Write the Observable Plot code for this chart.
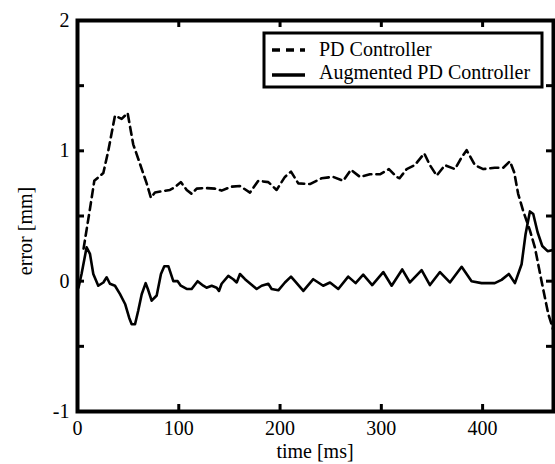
<!DOCTYPE html>
<html><head><meta charset="utf-8">
<script src="https://cdn.jsdelivr.net/npm/d3@7"></script>
<script src="https://cdn.jsdelivr.net/npm/@observablehq/plot@0.6"></script>
<style>body{margin:0;background:#fff}</style>
</head><body><div id="chart"></div>
<script>
// ---- data ----
const seriesNames = ["PD Controller", "Augmented PD Controller"];
const pdTime  = [6,12,16.6,25.5,30.4,37,43.6,49.5,55,61.7,68.3,72.5,76.5,83,91.3,96,102,107.8,112.7,117.7,125.9,135.7,142.3,152,160.4,170.3,178.5,188.4,196.6,204.8,210.8,218,229.5,241,252.5,262.4,270,278.9,288.7,298.6,307.5,315,318,325,333,342.4,348,354.6,362.8,372.7,379.3,384.2,392.4,400.6,412,420.3,427,431.2,435.1,440,446.7,451.6,458.2,464.8,470];
const pdError = [0.25,0.54,0.77,0.83,1.0,1.27,1.245,1.29,1.05,0.90,0.75,0.64,0.68,0.69,0.70,0.72,0.76,0.70,0.67,0.71,0.715,0.71,0.695,0.725,0.73,0.68,0.77,0.76,0.70,0.80,0.84,0.75,0.745,0.79,0.80,0.77,0.855,0.80,0.82,0.82,0.86,0.80,0.79,0.86,0.89,0.98,0.89,0.81,0.89,0.86,0.95,1.005,0.89,0.86,0.87,0.87,0.92,0.835,0.67,0.54,0.39,0.26,0.0,-0.25,-0.38];
const augTime  = [1,4,9,12.3,15.6,20.5,25.5,28.8,32,37,42,47,51,53.5,56.8,60,63.4,67.3,69.9,73.2,78.2,82.4,85.7,89.7,94.6,98.9,102,107.8,112.7,118.6,124.2,127.4,132.5,137.4,139.7,142.3,148.9,153.8,157.2,160.4,165.4,176.9,181.8,188.4,191.7,198.3,204.8,210.8,214.7,223,232.8,242.6,249.3,257.5,267.3,274.6,282.1,291,301.9,310.2,320.6,328.2,339.8,348,357.9,367.7,379.3,389.1,399,412,418.7,425.9,431.9,438.5,442.4,446.7,450,454.3,458.9,464.2,470];
const augError = [-0.05,0.055,0.26,0.21,0.055,-0.035,-0.01,0.03,-0.02,-0.035,-0.1,-0.175,-0.28,-0.33,-0.33,-0.225,-0.1,-0.015,-0.07,-0.15,-0.11,0.055,0.115,0.115,0.0,0.0,-0.035,-0.06,-0.06,0.0,-0.035,-0.05,-0.035,-0.05,-0.075,-0.02,0.04,0.015,-0.01,0.055,0.015,-0.06,-0.035,-0.02,-0.06,-0.07,-0.01,0.035,0.0,-0.075,0.015,-0.035,-0.01,-0.06,0.035,-0.015,0.05,-0.03,0.07,-0.035,0.09,-0.01,0.085,-0.03,0.07,-0.01,0.11,0.0,-0.015,-0.015,0.01,0.055,-0.015,0.13,0.36,0.535,0.515,0.375,0.27,0.23,0.24];
const xTicks = [0, 100, 200, 300, 400];
const yTicks = [-1, 0, 1, 2];
const yMinorTicks = [-0.5, 0, 0.5, 1, 1.5];
const xLabel = "time [ms]";
const yLabel = "error [mm]";

// ---- layout ----
const W = 555, H = 464, mL = 77, mR = 2, mT = 20, mB = 53;
const fw = W - mL - mR, fh = H - mT - mB;
const font = "'Liberation Serif', 'Times New Roman', serif";
const fmt = d => (d < 0 ? "-" + Math.abs(d) : String(d));

const pd = pdTime.map((t, i) => ({t, v: pdError[i]}));
const aug = augTime.map((t, i) => ({t, v: augError[i]}));

const plot = Plot.plot({
  width: W, height: H,
  marginLeft: mL, marginRight: mR, marginTop: mT, marginBottom: mB,
  x: {domain: [0, 470]},
  y: {domain: [-1, 2]},
  style: {fontFamily: font, fontSize: "20px", background: "white", color: "black"},
  marks: [
    Plot.line(pd, {x: "t", y: "v", stroke: "black", strokeWidth: 2.6, strokeDasharray: "8,5"}),
    Plot.line(aug, {x: "t", y: "v", stroke: "black", strokeWidth: 2.6}),
    Plot.ruleX(xTicks.slice(1), {x: d => d, insetTop: fh - 7, strokeWidth: 3}),
    Plot.ruleX(xTicks.slice(1), {x: d => d, insetBottom: fh - 7, strokeWidth: 3}),
    Plot.ruleY(yMinorTicks, {y: d => d, insetRight: fw - 7, strokeWidth: 3}),
    Plot.ruleY(yMinorTicks, {y: d => d, insetLeft: fw - 7, strokeWidth: 3}),
    Plot.frame({stroke: "black", strokeWidth: 4}),
    Plot.axisX({ticks: xTicks, tickSize: 0, tickPadding: 9, fontSize: 20, label: null, tickFormat: fmt}),
    Plot.axisY({ticks: yTicks, tickSize: 0, tickPadding: 8, fontSize: 20, label: null, tickFormat: fmt})
  ]
});

const svg = d3.select(plot);
const txt = svg.append("g")
  .style("font-family", font).style("font-size", "20px")
  .attr("fill", "black");

// axis titles
txt.append("text").attr("x", mL + fw / 2).attr("y", 458)
  .attr("text-anchor", "middle").text(xLabel);
txt.append("text").attr("transform", "translate(32,231) rotate(-90)")
  .attr("text-anchor", "middle").text(yLabel);

// legend box inside the frame
txt.append("rect").attr("x", 264).attr("y", 33).attr("width", 278).attr("height", 54)
  .attr("fill", "white").attr("stroke", "black").attr("stroke-width", 3);
const rows = [{y: 50, base: 56, dash: "8,6"}, {y: 75, base: 79, dash: null}];
rows.forEach((r, i) => {
  const ln = txt.append("line").attr("x1", 272).attr("x2", 305).attr("y1", r.y).attr("y2", r.y)
    .attr("stroke", "black").attr("stroke-width", 3.5);
  if (r.dash) ln.attr("stroke-dasharray", r.dash);
  txt.append("text").attr("x", 319).attr("y", r.base).attr("text-anchor", "start")
    .text(seriesNames[i]);
});

document.getElementById("chart").appendChild(plot);
</script>
</body></html>
